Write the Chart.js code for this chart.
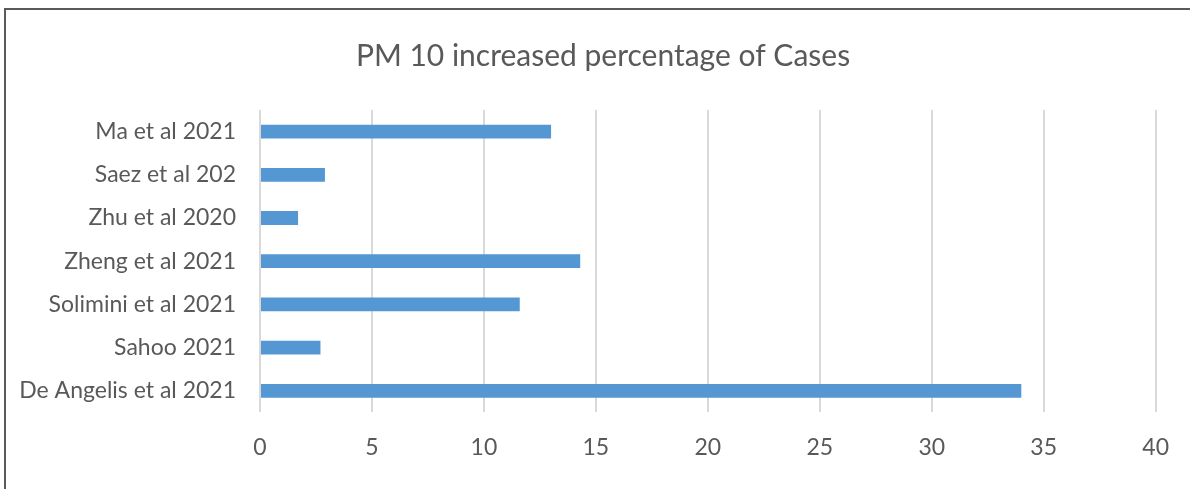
<!DOCTYPE html>
<html>
<head>
<meta charset="utf-8">
<script src="https://cdn.jsdelivr.net/npm/chart.js@4/dist/chart.umd.min.js"></script>
<style>
  html, body { margin: 0; padding: 0; background: #fff; }
  #wrap { position: relative; width: 1190px; height: 489px; overflow: hidden; }
  #frame { position: absolute; left: 4px; top: 8px; width: 1300px; height: 600px;
           border-left: 2px solid #5a5a5a; border-top: 2px solid #5a5a5a; pointer-events: none; }
  canvas { position: absolute; left: 0; top: 0; }
</style>
</head>
<body>
<div id="wrap">
  <canvas id="chart" width="1190" height="489"></canvas>
  <div id="frame"></div>
</div>
<script>
// Studies, listed top to bottom
const studies = [
  'Ma et al 2021',
  'Saez et al 202',
  'Zhu et al 2020',
  'Zheng et al 2021',
  'Solimini et al 2021',
  'Sahoo 2021',
  'De Angelis et al 2021'
];
// Increase in cases (%) associated with PM10
const increasePct = [13, 2.9, 1.7, 14.3, 11.6, 2.7, 34];
const axisMin = 0;
const axisMax = 40;
const axisStep = 5;

const textColor = '#595959';
const fontFamily = 'Lato, "Open Sans", sans-serif';

// Centre the title over the plot rather than the full canvas width
const titleShift = {
  id: 'titleShift',
  afterLayout(chart) {
    if (chart.titleBlock) chart.titleBlock.left = 50;
  }
};

new Chart(document.getElementById('chart'), {
  type: 'bar',
  data: {
    labels: studies,
    datasets: [{
      data: increasePct,
      backgroundColor: '#5597d3',
      borderWidth: 0,
      categoryPercentage: 1,
      barPercentage: 0.32
    }]
  },
  options: {
    indexAxis: 'y',
    responsive: false,
    animation: false,
    layout: { padding: { left: 0, right: 34, top: 0, bottom: 7 } },
    plugins: {
      legend: { display: false },
      tooltip: { enabled: false },
      title: {
        display: true,
        text: 'PM 10 increased percentage of Cases',
        color: textColor,
        font: { family: fontFamily, size: 30, weight: 'normal' },
        padding: { top: 38, bottom: 36 }
      }
    },
    scales: {
      x: {
        min: axisMin,
        max: axisMax,
        ticks: {
          stepSize: axisStep,
          color: textColor,
          font: { family: fontFamily, size: 23 },
          padding: 21
        },
        grid: { color: '#d9d9d9', lineWidth: 2, drawTicks: false },
        border: { display: false }
      },
      y: {
        ticks: {
          color: textColor,
          font: { family: fontFamily, size: 23 },
          padding: 24
        },
        grid: { display: false, drawTicks: false },
        border: { display: false },
        afterFit: (scale) => { scale.width = 260; }
      }
    }
  },
  plugins: [titleShift]
});
</script>
</body>
</html>
